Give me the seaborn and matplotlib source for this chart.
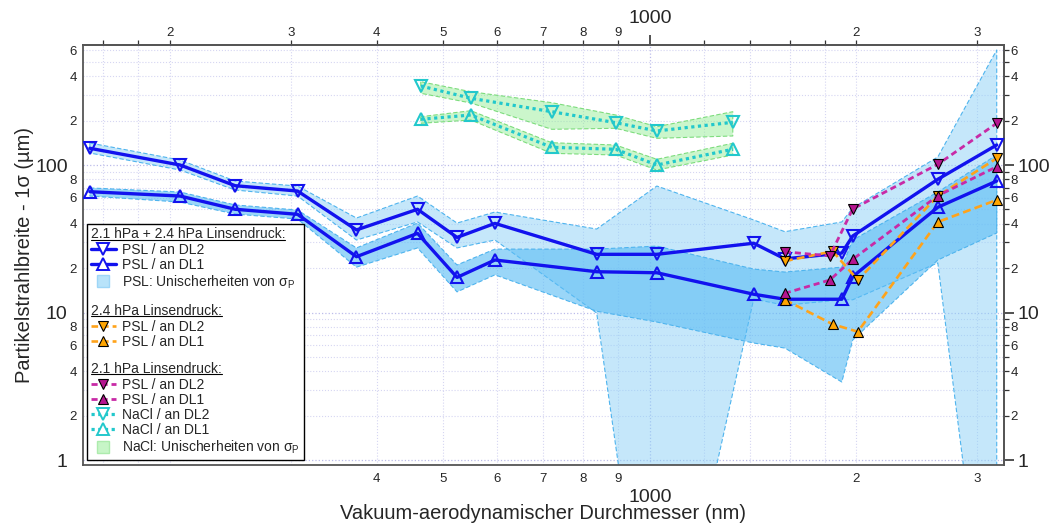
import numpy as np
import pandas as pd
import matplotlib
matplotlib.use("Agg")
import matplotlib.pyplot as plt
import seaborn as sns
from matplotlib.lines import Line2D
from matplotlib.legend_handler import HandlerBase
from matplotlib.text import Text
from matplotlib.transforms import IdentityTransform

# ---------------- data ----------------
# PSL, 2.1 hPa + 2.4 hPa lens pressure (nm / µm)
psl_x = [153, 207, 249, 307, 374, 459, 524, 595, 837, 1024, 1417, 1573, 1904, 1975, 2627, 3201]
psl_dl2 = [129.8, 100, 72.4, 66.6, 36.3, 50.1, 32.3, 40.2, 24.8, 24.8, 29.5, 23.1, 25.3, 33.0, 80.0, 136.7]
psl_dl1 = [65.9, 61.6, 50.1, 46.3, 23.9, 34.4, 17.3, 22.7, 18.9, 18.6, 13.3, 12.3, 12.3, 17.5, 51.7, 77.9]
psl_dl2_hi = [141, 108.1, 77.9, 72.0, 43.7, 61.6, 40.4, 48.0, 36.8, 72.0, 42.4, 35.3, 41.1, 51.1, 113.3, 602]
psl_dl2_lo = [120.6, 92.5, 67.7, 61.6, 31.0, 41.1, 27.4, 31.0, 9.92, 0.014, 12.35, 11.2, 12.2, 12.2, 21.7, 0.015]
psl_dl1_hi = [69.9, 65.6, 53.6, 49.5, 27.4, 40.4, 21.0, 26.9, 26.9, 28.2, 19.7, 18.8, 20.3, 31.0, 65.6, 116.9]
psl_dl1_lo = [61.6, 56.1, 46.5, 43.0, 20.3, 27.4, 13.8, 18.0, 10.2, 8.62, 6.21, 5.74, 3.38, 6.51, 22.7, 34.6]

# PSL, 2.4 hPa
o_x = [1573, 1847, 2009, 2627, 3201]
o_dl2 = [22.3, 26.0, 16.6, 61.6, 111.0]
o_dl1 = [12.2, 8.32, 7.41, 41.1, 57.9]

# PSL, 2.1 hPa
m_x = [1573, 1829, 1975, 2627, 3201]
m_dl2 = [25.8, 24.2, 50.3, 101.1, 191.8]
m_dl1 = [13.5, 16.6, 22.95, 61.9, 97.4]

# NaCl, 2.1 hPa
n_x = [464, 549, 720, 892, 1024, 1321]
n_dl2 = [343.2, 283.4, 229.8, 193.6, 170.1, 194.8]
n_dl1 = [204.1, 218.3, 131.8, 127.8, 100.0, 127.8]
n_dl2_hi = [367, 314, 264.5, 218.3, 181.8, 229.8]
n_dl2_lo = [306.3, 263.3, 174.6, 177.4, 151.7, 157.3]
n_dl1_hi = [212.6, 233.4, 141.6, 136.6, 109.3, 140.3]
n_dl1_lo = [191.8, 201.8, 120.0, 116.9, 92.5, 116.9]

# ticks
x_major = [1000]
x_major_labels = ["1000"]
x_minor = [160, 180, 200, 300, 400, 500, 600, 700, 800, 900, 1200, 1400, 1600, 1800, 2000, 3000]
x_minor_labels_bottom = ["", "", "", "", "4", "5", "6", "7", "8", "9", "", "", "", "", "2", "3"]
x_minor_labels_top = ["", "", "2", "3", "4", "5", "6", "7", "8", "9", "", "", "", "", "2", "3"]
y_major = [1, 10, 100]
y_major_labels = ["1", "10", "100"]
y_minor = [2, 3, 4, 5, 6, 7, 8, 9, 20, 30, 40, 50, 60, 70, 80, 90, 200, 300, 400, 500, 600]
y_minor_labels = ["2", "", "4", "", "6", "", "8", "",
                  "2", "", "4", "", "6", "", "8", "",
                  "2", "", "4", "", "6"]

# ---------------- style ----------------
sns.set_style("white")
plt.rcParams["font.family"] = ["Liberation Sans", "DejaVu Sans"]
plt.rcParams["mathtext.fontset"] = "custom"
plt.rcParams["mathtext.rm"] = "Liberation Sans"
plt.rcParams["mathtext.it"] = "Liberation Sans:italic"
plt.rcParams["mathtext.bf"] = "Liberation Sans:bold"

BLUE = "#1212ee"
ORANGE = "#ffa31a"
ORANGE_F = "#ffa500"
MAG = "#c82aa6"
MAG_F = "#b5158f"
CYAN = "#22c8cc"
BAND2 = (0.55, 0.82, 0.97, 0.50)
BAND1 = (0.36, 0.74, 0.96, 0.62)
BANDEDGE = "#4fb4ee"
GREEN = (0.55, 0.93, 0.55, 0.45)
GREENEDGE = "#7ddc7d"
SPINE = "#555555"

fig = plt.figure(figsize=(10.57, 5.26), dpi=100)
ax = fig.add_axes([83 / 1057, 1 - 465 / 526, (1004 - 83) / 1057, (465 - 45) / 526])
ax.set_xscale("log")
ax.set_yscale("log")
ax.set_xlim(149.5, 3280)
ax.set_ylim(0.925, 651)
ax.set_axisbelow(True)

# bands
ax.fill_between(psl_x, psl_dl2_lo, psl_dl2_hi, facecolor=BAND2, edgecolor=BANDEDGE,
                linestyle=(0, (4, 2)), linewidth=0.8, zorder=1)
ax.fill_between(psl_x, psl_dl1_lo, psl_dl1_hi, facecolor=BAND1, edgecolor=BANDEDGE,
                linestyle=(0, (4, 2)), linewidth=0.8, zorder=1.1)
ax.fill_between(n_x, n_dl2_lo, n_dl2_hi, facecolor=GREEN, edgecolor=GREENEDGE,
                linestyle=(0, (4, 2)), linewidth=0.8, zorder=1)
ax.fill_between(n_x, n_dl1_lo, n_dl1_hi, facecolor=GREEN, edgecolor=GREENEDGE,
                linestyle=(0, (4, 2)), linewidth=0.8, zorder=1)

def line(x, y, **kw):
    sns.lineplot(x=x, y=y, ax=ax, estimator=None, sort=False, errorbar=None,
                 legend=False, **kw)

blue_kw = dict(color=BLUE, linewidth=2.4, markersize=9, markerfacecolor="none",
               markeredgecolor=BLUE, markeredgewidth=1.5, zorder=3)
line(psl_x, psl_dl2, marker="v", **blue_kw)
line(psl_x, psl_dl1, marker="^", **blue_kw)

or_kw = dict(color=ORANGE, linewidth=1.9, linestyle=(0, (3, 1.6)), markersize=7.5,
             markerfacecolor=ORANGE_F, markeredgecolor="black", markeredgewidth=0.8, zorder=4)
line(o_x, o_dl2, marker="v", **or_kw)
line(o_x, o_dl1, marker="^", **or_kw)

mg_kw = dict(color=MAG, linewidth=2.0, linestyle=(0, (2.2, 1.4)), markersize=7.5,
             markerfacecolor=MAG_F, markeredgecolor="black", markeredgewidth=0.8, zorder=5)
line(m_x, m_dl2, marker="v", **mg_kw)
line(m_x, m_dl1, marker="^", **mg_kw)

cy_kw = dict(color=CYAN, linewidth=2.3, linestyle=(0, (1, 1.1)), markersize=9,
             markerfacecolor="none", markeredgecolor=CYAN, markeredgewidth=1.5, zorder=4)
line(n_x, n_dl2, marker="v", **cy_kw)
line(n_x, n_dl1, marker="^", **cy_kw)

# ---------------- axes / ticks ----------------
ax.grid(True, which="major", color="#bcbcea", linestyle=":", linewidth=0.9)
ax.grid(True, which="minor", color="#d6d6f2", linestyle=":", linewidth=0.8)

ax.set_xticks(x_major, x_major_labels)
ax.set_xticks(x_minor, x_minor_labels_bottom, minor=True)
ax.set_yticks(y_major, y_major_labels)
ax.set_yticks(y_minor, y_minor_labels, minor=True)
ax.set_xlim(149.5, 3280)
ax.set_ylim(0.925, 651)

for s in ax.spines.values():
    s.set_color(SPINE)
    s.set_linewidth(1.3)

tc = "#333333"
ax.tick_params(axis="x", which="major", direction="out", length=7, width=1.2, labelsize=14, pad=10, color=tc)
ax.tick_params(axis="x", which="minor", direction="out", length=3.5, width=0.9, labelsize=9.5, pad=2, color=tc)
ax.tick_params(axis="y", which="major", direction="out", length=7, width=1.2, labelsize=14, pad=4, color=tc)
ax.tick_params(axis="y", which="minor", direction="out", length=3.5, width=0.9, labelsize=9.5, pad=1, color=tc)

secx = ax.secondary_xaxis("top")
secx.set_xticks(x_major, x_major_labels)
secx.set_xticks(x_minor, x_minor_labels_top, minor=True)
secx.tick_params(axis="x", which="major", direction="out", length=7, width=1.2, labelsize=14, pad=6, color=tc)
secx.tick_params(axis="x", which="minor", direction="out", length=3.5, width=0.9, labelsize=9.5, pad=1, color=tc)
secy = ax.secondary_yaxis("right")
secy.set_yticks(y_major, y_major_labels)
secy.set_yticks(y_minor, y_minor_labels, minor=True)
secy.tick_params(axis="y", which="major", direction="out", length=7, width=1.2, labelsize=14, pad=3, color=tc)
secy.tick_params(axis="y", which="minor", direction="out", length=3.5, width=0.9, labelsize=9.5, pad=1, color=tc)
for sa in (secx, secy):
    for s in sa.spines.values():
        s.set_color(SPINE)
        s.set_linewidth(1.3)

ax.set_xlabel("Vakuum-aerodynamischer Durchmesser (nm)", fontsize=14.5, labelpad=-1)
ax.set_ylabel("Partikelstrahlbreite - 1σ (µm)", fontsize=14.5, labelpad=1)

# ---------------- legend ----------------
class Heading:
    def __init__(self, text):
        self.text = text

heading_texts = []

class HeadingHandler(HandlerBase):
    def create_artists(self, legend, orig_handle, xdescent, ydescent, width, height, fontsize, trans):
        t = Text(-xdescent, (height - ydescent) / 2.0, orig_handle.text, fontsize=fontsize,
                 va="center", ha="left", transform=trans)
        if orig_handle.text:
            heading_texts.append(t)
        return [t]

def proxy(color, marker, ls, lw, ms, mfc, mec, mew):
    return Line2D([], [], color=color, marker=marker, linestyle=ls, linewidth=lw,
                  markersize=ms, markerfacecolor=mfc, markeredgecolor=mec, markeredgewidth=mew)

sq = dict(marker="s", linestyle="none", markersize=9)
handles = [
    Heading("2.1 hPa + 2.4 hPa Linsendruck:"),
    proxy(BLUE, "v", "-", 2.4, 8, "white", BLUE, 1.4),
    proxy(BLUE, "^", "-", 2.4, 8, "white", BLUE, 1.4),
    Line2D([], [], markerfacecolor=(0.72, 0.89, 0.98), markeredgecolor=(0.62, 0.84, 0.97), **sq),
    Heading(""),
    Heading("2.4 hPa Linsendruck:"),
    proxy(ORANGE, "v", (0, (2.5, 1.5)), 1.9, 7, ORANGE_F, "black", 0.8),
    proxy(ORANGE, "^", (0, (2.5, 1.5)), 1.9, 7, ORANGE_F, "black", 0.8),
    Heading(""),
    Heading("2.1 hPa Linsendruck:"),
    proxy(MAG, "v", (0, (2.2, 1.4)), 2.0, 7, MAG_F, "black", 0.8),
    proxy(MAG, "^", (0, (2.2, 1.4)), 2.0, 7, MAG_F, "black", 0.8),
    proxy(CYAN, "v", (0, (1, 1.1)), 2.3, 8, "white", CYAN, 1.4),
    proxy(CYAN, "^", (0, (1, 1.1)), 2.3, 8, "white", CYAN, 1.4),
    Line2D([], [], markerfacecolor=(0.78, 0.96, 0.78), markeredgecolor=(0.68, 0.92, 0.68), **sq),
]
labels = ["", "PSL / an DL2", "PSL / an DL1", "PSL: Unischerheiten von σ$_\\mathrm{P}$", "",
          "", "PSL / an DL2", "PSL / an DL1", "",
          "", "PSL / an DL2", "PSL / an DL1", "NaCl / an DL2", "NaCl / an DL1",
          "NaCl: Unischerheiten von σ$_\\mathrm{P}$"]
leg = ax.legend(handles, labels, handler_map={Heading: HeadingHandler()},
                loc="lower left", bbox_to_anchor=(0.004, 0.012), borderaxespad=0,
                fontsize=10, labelspacing=0.08, handlelength=1.8, handletextpad=0.45,
                borderpad=0.3, frameon=True, fancybox=False, framealpha=1,
                edgecolor="black")
leg.get_frame().set_linewidth(1.0)
leg.set_zorder(10)
texts = leg.get_texts()
for i in (4, 8):
    texts[i].set_fontsize(7.5)

fig.canvas.draw()
for t in heading_texts:
    bb = t.get_window_extent()
    yy = bb.y0 + 1.5
    fig.add_artist(Line2D([bb.x0, bb.x1], [yy, yy], transform=IdentityTransform(),
                          color="black", linewidth=0.8, zorder=20))

fig.savefig("out.png", dpi=100)
